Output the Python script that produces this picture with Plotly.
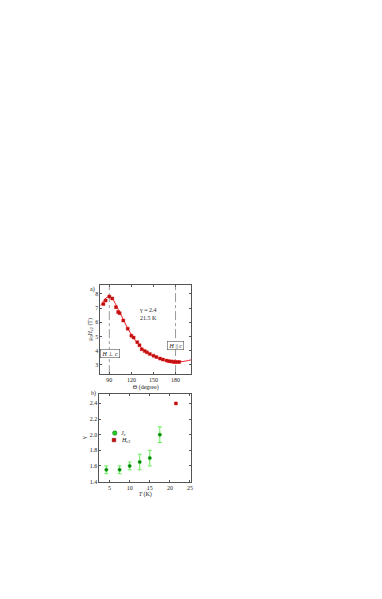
import plotly.graph_objects as go

# ---- panel a data ----
theta = [82, 85, 90, 94, 99, 102, 104, 109, 115, 120, 123, 128, 131, 134, 138, 141, 145,
         150, 154, 159, 163, 168, 171, 174, 177, 179, 182, 185]
hc2 = [7.28, 7.53, 7.81, 7.67, 7.06, 6.72, 6.64, 6.12, 5.55, 5.05, 4.92, 4.60, 4.38, 4.10,
       3.98, 3.88, 3.77, 3.65, 3.55, 3.44, 3.37, 3.30, 3.26, 3.24, 3.22, 3.21, 3.20, 3.20]
fit_theta = [78, 81, 84, 87, 90, 93, 96, 100, 105, 110, 115, 120, 125, 130, 135, 140, 145,
             150, 155, 160, 165, 170, 175, 180, 185, 190, 195, 201]
fit_h = [7.15, 7.40, 7.62, 7.76, 7.82, 7.74, 7.52, 7.12, 6.62, 6.08, 5.57, 5.12, 4.74, 4.42,
         4.15, 3.93, 3.76, 3.62, 3.50, 3.41, 3.34, 3.28, 3.24, 3.22, 3.22, 3.24, 3.28, 3.35]

# ---- panel b data ----
T_jc = [4.2, 7.5, 10, 12.5, 15, 17.5]
gamma_jc = [1.55, 1.55, 1.60, 1.65, 1.70, 2.00]
gamma_jc_err = [0.05, 0.05, 0.05, 0.10, 0.10, 0.10]
T_hc2 = [21.5]
gamma_hc2 = [2.40]

OFF = 8  # default page body margin
W, H = 382 - 2 * OFF, 599 - 2 * OFF
FONT = "Liberation Serif"

def px_x(p):
    return (p - OFF) / W

def px_y(p):
    return 1 - (p - OFF) / H

fig = go.Figure()

fig.add_trace(go.Scatter(x=fit_theta, y=fit_h, mode="lines", line=dict(color="#e8202a", width=1),
                         xaxis="x", yaxis="y", showlegend=False, line_shape="spline"))
fig.add_trace(go.Scatter(x=theta, y=hc2, mode="markers",
                         marker=dict(symbol="square", size=3, color="#b50d0d",
                                     line=dict(color="#e82020", width=0.5)),
                         xaxis="x", yaxis="y", showlegend=False))

fig.add_trace(go.Scatter(x=T_jc, y=gamma_jc, mode="markers",
                         error_y=dict(type="data", array=gamma_jc_err, color="#66ee55",
                                      thickness=1, width=2),
                         marker=dict(symbol="circle", size=3.5, color="#0d7a0d",
                                     line=dict(color="#22cc22", width=0.5)),
                         xaxis="x2", yaxis="y2", showlegend=False))
fig.add_trace(go.Scatter(x=T_hc2, y=gamma_hc2, mode="markers",
                         marker=dict(symbol="square", size=3, color="#b50d0d",
                                     line=dict(color="#e82020", width=0.5)),
                         xaxis="x2", yaxis="y2", showlegend=False))
# legend markers (panel b)
fig.add_trace(go.Scatter(x=[6.3], y=[2.02], mode="markers",
                         marker=dict(symbol="circle", size=4.5, color="#22cc22",
                                     line=dict(color="#0d6a0d", width=0.5)),
                         xaxis="x2", yaxis="y2", showlegend=False))
fig.add_trace(go.Scatter(x=[6.1], y=[1.93], mode="markers",
                         marker=dict(symbol="square", size=3.5, color="#cc0d0d",
                                     line=dict(color="#800000", width=0.5)),
                         xaxis="x2", yaxis="y2", showlegend=False))

axis_common = dict(showline=True, mirror="allticks", linecolor="#555555", linewidth=1,
                   ticks="inside", ticklen=2, tickwidth=0.7, tickcolor="#555555",
                   showgrid=False, zeroline=False,
                   tickfont=dict(family=FONT, size=6, color="#222222"),
                   title_font=dict(family=FONT, size=6, color="#222222"))

fig.update_layout(
    width=W, height=H, margin=dict(l=0, r=0, t=0, b=0),
    paper_bgcolor="white", plot_bgcolor="white",
    font=dict(family=FONT, size=6, color="#222222"),
    xaxis=dict(domain=[px_x(101), px_x(192)], range=[78, 201], anchor="y",
               tickvals=[90, 120, 150, 180], title=dict(text="Θ (degree)", standoff=2),
               **axis_common),
    yaxis=dict(domain=[px_y(376), px_y(286)], range=[2.35, 8.65], anchor="x",
               tickvals=[3, 4, 5, 6, 7, 8],
               title=dict(text="μ<sub>0</sub><i>H</i><sub>c2</sub> (T)", standoff=2),
               **axis_common),
    xaxis2=dict(domain=[px_x(100), px_x(192)], range=[2.5, 25.25], anchor="y2",
                tickvals=[5, 10, 15, 20, 25], title=dict(text="<i>T</i> (K)", standoff=2),
                **axis_common),
    yaxis2=dict(domain=[px_y(484), px_y(396)], range=[1.4, 2.52], anchor="x2",
                tickvals=[1.4, 1.6, 1.8, 2.0, 2.2, 2.4], tickformat=".1f",
                title=dict(text="γ", standoff=2),
                **axis_common),
)

# dash-dot reference lines
for xv in [90, 180]:
    fig.add_shape(type="line", xref="x", yref="paper", x0=xv, x1=xv,
                  y0=px_y(376), y1=px_y(286),
                  line=dict(color="#999999", width=1, dash="dashdot"), layer="below")

fig.add_annotation(x=91, y=3.78, xref="x", yref="y", text="<i>H</i> ⊥ <i>c</i>",
                   showarrow=False, bordercolor="#555555", borderwidth=0.6, borderpad=1,
                   bgcolor="white", font=dict(family=FONT, size=6))
fig.add_annotation(x=180, y=4.36, xref="x", yref="y", text="<i>H</i> || <i>c</i>",
                   showarrow=False, bordercolor="#555555", borderwidth=0.6, borderpad=1,
                   bgcolor="white", font=dict(family=FONT, size=6))
fig.add_annotation(x=128, y=6.55, xref="x", yref="y", text="γ = 2.4<br>21.5 K",
                   showarrow=False, xanchor="left", align="left",
                   font=dict(family=FONT, size=6))
fig.add_annotation(x=px_x(88), y=px_y(291), xref="paper", yref="paper", text="a)",
                   showarrow=False, font=dict(family=FONT, size=6))
fig.add_annotation(x=px_x(89), y=px_y(401), xref="paper", yref="paper", text="b)",
                   showarrow=False, font=dict(family=FONT, size=6))
fig.add_annotation(x=7.3, y=2.02, xref="x2", yref="y2", text="<i>J</i><sub>c</sub>",
                   showarrow=False, xanchor="left", font=dict(family=FONT, size=6))
fig.add_annotation(x=7.3, y=1.93, xref="x2", yref="y2", text="<i>H</i><sub>c2</sub>",
                   showarrow=False, xanchor="left", font=dict(family=FONT, size=6))

fig.write_html("out.html")
